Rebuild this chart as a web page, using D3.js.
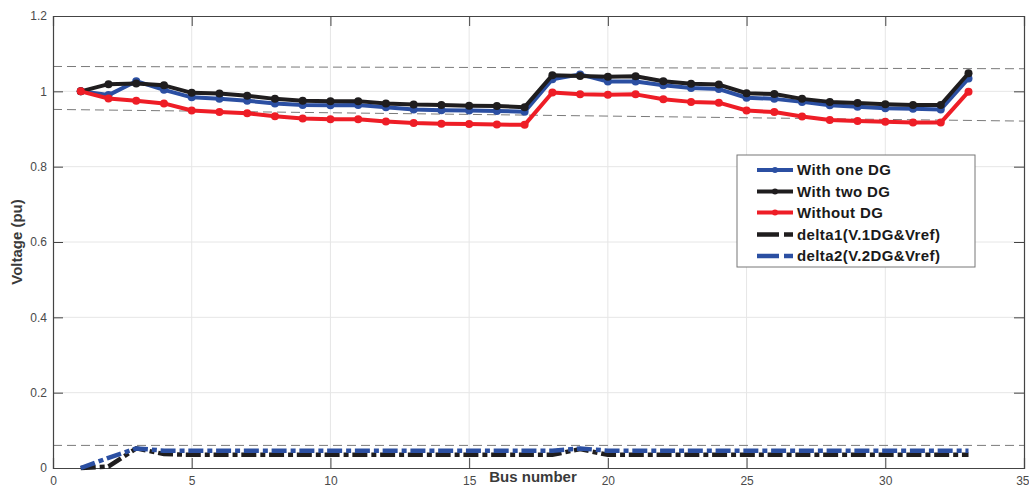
<!DOCTYPE html>
<html><head><meta charset="utf-8">
<script src="https://cdn.jsdelivr.net/npm/d3@7"></script>
<style>
html,body{margin:0;padding:0;background:#fff;}
text{font-family:"Liberation Sans",Arial,Helvetica,sans-serif;}
</style></head>
<body><svg id="chart" width="1029" height="487"></svg>
<script>
const buses = d3.range(1, 34);
const withOneDG = [1.000,0.990,1.027,1.004,0.984,0.980,0.975,0.968,0.964,0.963,0.964,0.958,0.952,0.950,0.949,0.948,0.946,1.032,1.045,1.026,1.026,1.016,1.009,1.006,0.983,0.980,0.972,0.963,0.959,0.955,0.954,0.952,1.034];
const withTwoDG = [1.000,1.019,1.021,1.016,0.996,0.994,0.988,0.980,0.975,0.974,0.974,0.968,0.965,0.964,0.962,0.961,0.958,1.043,1.041,1.039,1.040,1.027,1.020,1.018,0.995,0.993,0.980,0.972,0.969,0.966,0.964,0.964,1.048];
const withoutDG = [1.000,0.981,0.975,0.968,0.949,0.945,0.942,0.934,0.928,0.926,0.926,0.920,0.916,0.914,0.913,0.912,0.911,0.997,0.992,0.991,0.992,0.979,0.972,0.970,0.949,0.945,0.933,0.924,0.921,0.919,0.917,0.917,0.999];
const delta1 = [0.000,0.004,0.052,0.037,0.035,0.035,0.035,0.035,0.035,0.035,0.035,0.035,0.035,0.035,0.035,0.035,0.035,0.035,0.050,0.035,0.035,0.035,0.035,0.035,0.035,0.035,0.035,0.035,0.035,0.035,0.035,0.035,0.035];
const delta2 = [0.000,0.027,0.052,0.046,0.046,0.046,0.046,0.046,0.046,0.046,0.046,0.046,0.046,0.046,0.046,0.046,0.046,0.046,0.052,0.046,0.046,0.046,0.046,0.046,0.046,0.046,0.046,0.046,0.046,0.046,0.046,0.046,0.046];
const refUpper = [[0,1.066],[35,1.060]];
const refLower = [[0,0.952],[35,0.921]];
const refBottom = [[0,0.06],[35,0.06]];
const xTicks = [0,5,10,15,20,25,30,35];
const yTicks = [0,0.2,0.4,0.6,0.8,1,1.2];
const seriesNames = ["With one DG","With two DG","Without DG","delta1(V.1DG&Vref)","delta2(V.2DG&Vref)"];

const BLUE="#2b4fa2", BLACK="#1f1d1e", RED="#ee1d26";
const svg = d3.select("#chart");
const L=53, R=1024, T=16, B=468;
const x = d3.scaleLinear().domain([0,35]).range([L,R]);
const y = d3.scaleLinear().domain([0,1.2]).range([B,T]);

// grid
const g = svg.append("g");
g.selectAll(".vg").data(xTicks.slice(1,-1)).join("line")
 .attr("x1",d=>x(d)).attr("x2",d=>x(d)).attr("y1",T).attr("y2",B)
 .attr("stroke","#e6e6e6").attr("stroke-width",1);
g.selectAll(".hg").data(yTicks.slice(1,-1)).join("line")
 .attr("y1",d=>y(d)).attr("y2",d=>y(d)).attr("x1",L).attr("x2",R)
 .attr("stroke","#e6e6e6").attr("stroke-width",1);

// reference dashed lines
const refLine = d3.line().x(d=>x(d[0])).y(d=>y(d[1]));
[refUpper, refLower, refBottom].forEach(r=>{
  svg.append("path").attr("d",refLine(r)).attr("fill","none")
   .attr("stroke","#7a7a7a").attr("stroke-width",1).attr("stroke-dasharray","9,5");
});

// axes
const tl = 10;
const ax = svg.append("g").attr("transform",`translate(0,${B})`)
  .call(d3.axisBottom(x).tickValues(xTicks).tickSize(-tl).tickPadding(6).tickFormat(d3.format("d")));
const axT = svg.append("g").attr("transform",`translate(0,${T})`)
  .call(d3.axisTop(x).tickValues(xTicks).tickSize(-tl).tickFormat(""));
const ay = svg.append("g").attr("transform",`translate(${L},0)`)
  .call(d3.axisLeft(y).tickValues(yTicks).tickSize(-tl).tickPadding(6).tickFormat(d=>d3.format("")(+d.toFixed(1))));
const ayR = svg.append("g").attr("transform",`translate(${R},0)`)
  .call(d3.axisRight(y).tickValues(yTicks).tickSize(-tl).tickFormat(""));
[ax,axT,ay,ayR].forEach(a=>{
  a.select(".domain").attr("stroke","#444").attr("stroke-width",1.2);
  a.selectAll(".tick line").attr("stroke","#444").attr("stroke-width",1);
  a.selectAll(".tick text").attr("fill","#4a4a4a").style("font-size","12px").style("font-family","'Liberation Sans',Arial,sans-serif");
});
ax.selectAll(".tick text").attr("dy","0.9em");
ax.selectAll(".tick text").filter(d=>d===35).attr("text-anchor","end").attr("dx","5");

// delta dashed lines
const line = d3.line().x((d,i)=>x(buses[i])).y(d=>y(d));
svg.append("path").attr("d",line(delta1)).attr("fill","none").attr("stroke",BLACK)
 .attr("stroke-width",4.5).attr("stroke-dasharray","15,4,5,3.76");
svg.append("path").attr("d",line(delta2)).attr("fill","none").attr("stroke",BLUE)
 .attr("stroke-width",4.5).attr("stroke-dasharray","15,4,5,3.76");

// solid series
[[withOneDG,BLUE],[withTwoDG,BLACK],[withoutDG,RED]].forEach(([data,c])=>{
  svg.append("path").attr("d",line(data)).attr("fill","none").attr("stroke",c)
    .attr("stroke-width",4).attr("stroke-linejoin","round");
  svg.append("g").selectAll("circle").data(data).join("circle")
    .attr("cx",(d,i)=>x(buses[i])).attr("cy",d=>y(d)).attr("r",4).attr("fill",c);
});

// axis labels
svg.append("text").attr("x",533).attr("y",482).attr("text-anchor","middle")
 .attr("fill","#3a3a3a").style("font-size","15px").style("font-weight","bold").text("Bus number");
svg.append("text").attr("transform","translate(22,242) rotate(-90)").attr("text-anchor","middle")
 .attr("fill","#3a3a3a").style("font-size","15px").style("font-weight","bold").text("Voltage (pu)");

// legend
const lg = svg.append("g");
lg.append("rect").attr("x",737).attr("y",155).attr("width",238).attr("height",112)
  .attr("fill","#fff").attr("stroke","#777").attr("stroke-width",1);
const legendColors=[BLUE,BLACK,RED,BLACK,BLUE];
const rowY=[170,191.5,212.5,234.5,256];
seriesNames.forEach((n,i)=>{
  const yy=rowY[i];
  if(i<3){
    lg.append("line").attr("x1",757).attr("x2",793).attr("y1",yy).attr("y2",yy)
      .attr("stroke",legendColors[i]).attr("stroke-width",4);
    lg.append("circle").attr("cx",775).attr("cy",yy).attr("r",3).attr("fill",legendColors[i]);
  } else {
    lg.append("line").attr("x1",757).attr("x2",793).attr("y1",yy).attr("y2",yy)
      .attr("stroke",legendColors[i]).attr("stroke-width",4.5).attr("stroke-dasharray","22,5,9");
  }
  lg.append("text").attr("x",797).attr("y",yy+5).attr("fill","#1a1a1a")
    .style("font-size","15px").style("font-weight","bold").style("letter-spacing","0.4px").text(n);
});
</script></body></html>
